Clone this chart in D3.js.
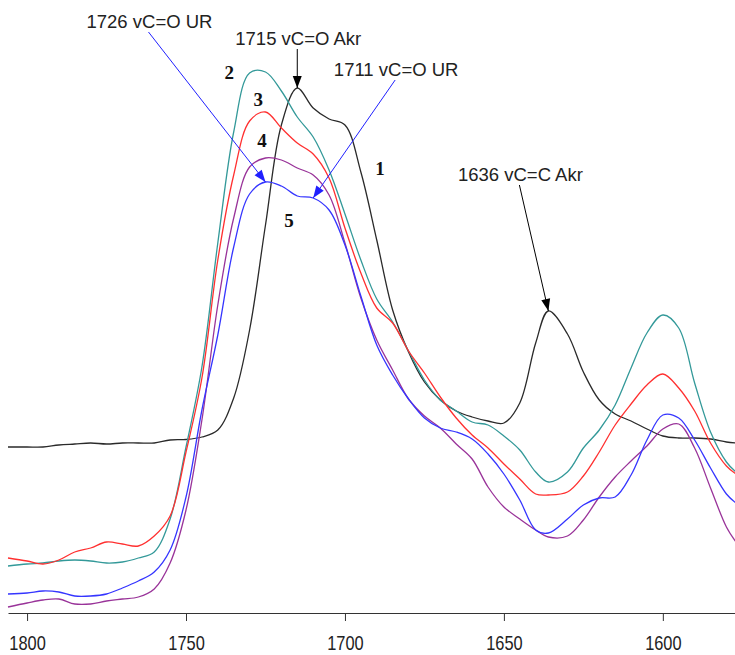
<!DOCTYPE html>
<html>
<head>
<meta charset="utf-8">
<script src="https://cdn.jsdelivr.net/npm/d3@7"></script>
<style>
  html, body { margin: 0; padding: 0; background: #fff; }
  svg { display: block; }
</style>
</head>
<body>
<svg id="canvas"></svg>
<script>
// wavenumbers, cm-1 (axis runs high -> low)
const wavenumbers = [1806, 1800, 1795, 1790, 1785, 1780, 1775, 1770, 1765, 1760, 1755, 1750,
  1745, 1740, 1735, 1730, 1725, 1720, 1715, 1710, 1705, 1700, 1695, 1690, 1685, 1680, 1675,
  1670, 1665, 1660, 1655, 1650, 1645, 1640, 1636, 1630, 1625, 1620, 1615, 1610, 1605, 1600,
  1595, 1590, 1585, 1580, 1577];

// absorbance, arbitrary units
const curve1 = [33.2, 33.2, 33.2, 33.6, 33.8, 34, 33.8, 34, 34, 34, 34.6, 34.7, 35.2, 36.6, 43,
  56.6, 77.6, 97.6, 105, 101, 98.8, 97.6, 88.2, 74.6, 60.6, 52.2, 46.2, 42.6, 40.4, 39.2, 38.4,
  38, 42, 54, 60.4, 55.8, 48.2, 42.6, 39.8, 38.4, 36.8, 35.4, 35, 35, 34.8, 34.2, 34];
const curve2 = [9.4, 9.8, 10, 10.4, 10.6, 10.4, 10, 10.2, 11, 12.2, 18.8, 33.2, 49.2, 74, 96.2,
  108, 108.2, 104.4, 99.2, 95.2, 88.6, 79.8, 70.6, 62.8, 58.2, 52.4, 46.6, 42.6, 40.4, 38.2, 37.6,
  35.4, 32.6, 28.2, 26.2, 28.2, 33, 36.6, 41.6, 49, 56, 59.6, 57, 46, 36.2, 30.2, 28.2];
const curve3 = [11, 10.4, 9.8, 10.6, 12.2, 13, 14.2, 13.8, 13.4, 15.4, 19.4, 32.2, 47, 70.6, 87.6,
  98.4, 100.2, 97, 94, 91.8, 87, 77, 68, 61, 58, 52.4, 48, 43.2, 39, 35.6, 33, 29.8, 26.8, 23.8,
  23.6, 24.2, 27.4, 32.2, 37.6, 41.8, 45.6, 47.8, 45, 40.4, 34, 29.4, 27.8];
const curve4 = [1.2, 2, 2.6, 2.8, 1.8, 1.8, 2.4, 2.8, 3.2, 4.8, 10, 20.6, 38.6, 61.6, 79, 89.2, 91,
  90.6, 89, 87.6, 83.6, 74, 63, 54.6, 48.6, 42.8, 39.4, 37, 33.8, 30.8, 25.2, 21.2, 18.8, 16.6,
  15.2, 15.4, 18.6, 23.2, 27.2, 30.4, 33.4, 36.8, 37.8, 33, 25, 17.2, 14.2];
const curve5 = [3.8, 4, 4.4, 4.2, 3.4, 3.4, 3.8, 5, 6.4, 8.2, 12.6, 23.2, 40.6, 55.6, 73.2, 83.8,
  86.2, 85.4, 83.4, 83, 80.6, 73.6, 63.4, 53.6, 47.6, 42.8, 39, 37, 36.2, 34.8, 31.8, 27.8, 22.6,
  16.6, 16, 18.8, 21.6, 23, 23.2, 27.6, 34.6, 39.6, 39, 34.6, 29, 23.8, 22];

const seriesNames = ['1', '2', '3', '4', '5'];
const seriesValues = [curve1, curve2, curve3, curve4, curve5];
const seriesColors = ['#2a2a2a', '#339999', '#ff3030', '#993399', '#3535ff'];

const tickValues = [1800, 1750, 1700, 1650, 1600];

// callouts: text, wavenumber of arrow tip, curve the tip sits on
const calloutLabels = ['1726 vC=O UR', '1715 vC=O Akr', '1711 vC=O UR', '1636 vC=C Akr'];
const calloutTips = [1725, 1715, 1710, 1636];
const calloutCurve = [4, 0, 4, 0];
const calloutColors = ['#2020ff', '#000', '#2020ff', '#000'];
// arrow tail offset from tip, px
const calloutOffsets = [[-117, -150], [0, -39], [82, -118], [-29, -126]];

// curve number labels [wavenumber, value]
const numberPos = [[1689, 89], [1736.4, 108.2], [1727.3, 102.8], [1726.1, 94.6], [1717.6, 78.6]];

const width = 735;
const height = 655;

const svg = d3.select('#canvas')
  .attr('width', width)
  .attr('height', height);

const x = d3.scaleLinear()
  .domain([1806, 1577.3])
  .range([8, 735]);

const y = d3.scaleLinear()
  .domain([0, 120])
  .range([613, 13]);

const line = d3.line()
  .x(d => x(d[0]))
  .y(d => y(d[1]))
  .curve(d3.curveCatmullRom.alpha(0.5));

svg.append('g')
  .selectAll('path')
  .data(seriesValues)
  .enter()
  .append('path')
  .attr('fill', 'none')
  .attr('stroke', (d, i) => seriesColors[i])
  .attr('stroke-width', 1.3)
  .attr('d', d => line(d.map((v, i) => [wavenumbers[i], v])));

// x axis
const axis = svg.append('g')
  .attr('transform', `translate(0,${y(0)})`)
  .call(d3.axisBottom(x)
    .tickValues(tickValues)
    .tickFormat(d3.format('d'))
    .tickSize(8)
    .tickSizeOuter(0)
    .tickPadding(15));

axis.select('.domain').attr('stroke', '#333');
axis.selectAll('.tick line').attr('stroke', '#333');
// narrow digits like the original
axis.selectAll('.tick text')
  .attr('fill', '#222')
  .attr('transform', 'scale(0.82,1)')
  .style('font-family', '"Liberation Sans", Arial, sans-serif')
  .style('font-size', '20px');

// arrow heads
const defs = svg.append('defs');
['blue', 'black'].forEach(name => {
  defs.append('marker')
    .attr('id', `head-${name}`)
    .attr('viewBox', '0 -5 12 10')
    .attr('refX', 12)
    .attr('refY', 0)
    .attr('markerUnits', 'userSpaceOnUse')
    .attr('markerWidth', 13)
    .attr('markerHeight', 10)
    .attr('orient', 'auto')
    .append('path')
    .attr('d', 'M0,-4.5L12,0L0,4.5Z')
    .attr('fill', name === 'blue' ? '#2020ff' : '#000');
});

const callouts = calloutLabels.map((label, i) => {
  const idx = wavenumbers.indexOf(calloutTips[i]);
  const tx = x(calloutTips[i]);
  const ty = y(seriesValues[calloutCurve[i]][idx]);
  return {
    label,
    tx, ty,
    sx: tx + calloutOffsets[i][0],
    sy: ty + calloutOffsets[i][1],
    color: calloutColors[i]
  };
});

svg.append('g')
  .selectAll('line')
  .data(callouts)
  .enter()
  .append('line')
  .attr('x1', d => d.sx)
  .attr('y1', d => d.sy)
  .attr('x2', d => d.tx)
  .attr('y2', d => d.ty)
  .attr('stroke', d => d.color)
  .attr('stroke-width', 1)
  .attr('marker-end', d => d.color === '#000' ? 'url(#head-black)' : 'url(#head-blue)');

svg.append('g')
  .selectAll('text')
  .data(callouts)
  .enter()
  .append('text')
  .attr('x', d => d.sx + 1)
  .attr('y', d => d.sy - 4)
  .attr('text-anchor', 'middle')
  .attr('fill', '#222')
  .style('font-family', '"Liberation Sans", Arial, sans-serif')
  .style('font-size', '18.5px')
  .text(d => d.label);

// curve numbers
svg.append('g')
  .selectAll('text')
  .data(numberPos)
  .enter()
  .append('text')
  .attr('x', d => x(d[0]))
  .attr('y', d => y(d[1]))
  .attr('dy', '0.35em')
  .attr('text-anchor', 'middle')
  .attr('fill', '#111')
  .style('font-family', '"Liberation Serif", "Times New Roman", serif')
  .style('font-weight', 'bold')
  .style('font-size', '19px')
  .text((d, i) => seriesNames[i]);
</script>
</body>
</html>
